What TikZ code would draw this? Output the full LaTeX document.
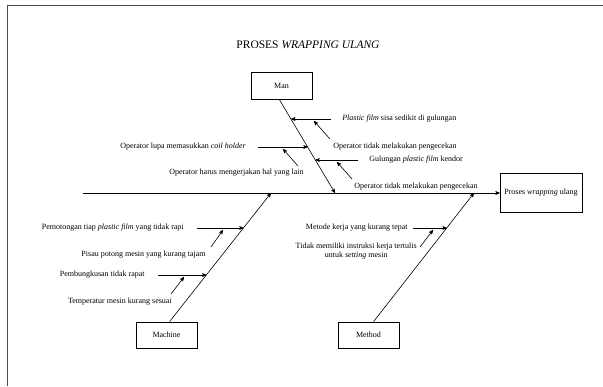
\documentclass[tikz,border=0pt]{standalone}
\usepackage{fontspec}
\setmainfont{Liberation Serif}
\usetikzlibrary{arrows,positioning}

\begin{document}
\begin{tikzpicture}[x=1pt,y=-1pt,->,>=stealth',line width=0.6pt,font=\fontsize{8}{9.5}\selectfont]
  \tikzstyle{box}=[draw=black,fill=white,minimum width=61pt,minimum height=27pt,inner sep=1pt]
  \tikzstyle{cause}=[inner sep=0pt]

  \useasboundingbox (0,0) rectangle (603,386);
  \draw[-,line width=1.3pt,gray!60!black] (7.5,386) -- (7.5,5.5) -- (603,5.5);

  \node (title) at (308,45) {\fontsize{11.5}{13}\selectfont PROSES \textit{WRAPPING ULANG}};

  % categories and effect
  \node[box] (man) at (281.5,86) {Man};
  \node[box,minimum height=26pt] (machine) at (166.5,335) {Machine};
  \node[box,minimum height=26pt] (method) at (368.5,335) {Method};
  \node[box,minimum width=82pt,minimum height=39pt] (effect) at (541,193) {Proses \textit{wrapping} ulang};

  % spine
  \coordinate (tail) at (83,193);
  \coordinate (jman) at (335,193);
  \coordinate (jmachine) at (271,193);
  \coordinate (jmethod) at (474,193);
  \draw (tail) -- (effect.west);

  % bones
  \draw ([xshift=-2pt]man.south) -- coordinate[pos=0.209] (m1) coordinate[pos=0.508] (m2)
    coordinate[pos=0.647] (m3) (jman);
  \draw ([xshift=3pt]machine.north) -- coordinate[pos=0.729] (b1) coordinate[pos=0.364] (b2) (jmachine);
  \draw ([xshift=5pt]method.north) -- coordinate[pos=0.729] (t1) (jmethod);

  % man
  \node[cause,anchor=west] (c1) at (342,119) {\textit{Plastic film} sisa sedikit di gulungan};
  \node[cause,anchor=west] (c2) at (333,147) {Operator tidak melakukan pengecekan};
  \node[cause,anchor=east] (c3) at (246,147) {Operator lupa memasukkan \textit{coil holder}};
  \node[cause,anchor=east] (c4) at (304,173) {Operator harus mengerjakan hal yang lain};
  \node[cause,anchor=west] (c5) at (369,160) {Gulungan \textit{plastic film} kendor};
  \node[cause,anchor=west] (c6) at (354,187) {Operator tidak melakukan pengecekan};
  \coordinate (k2) at (314,121);
  \coordinate (k4) at (283,149);
  \coordinate (k6) at (337,162);
  \draw[shorten <=11pt] (c1) -- (c1 -| m1);
  \draw ([shift={(-3,-8)}]c2.west) -- (k2);
  \draw[shorten <=12pt] (c3) -- (c3 -| m2);
  \draw ([shift={(-6,-7)}]c4.east) -- (k4);
  \draw[shorten <=11pt] (c5) -- (c5 -| m3);
  \draw ([shift={(-2,-8)}]c6.west) -- (k6);

  % machine
  \node[cause,anchor=east] (c7) at (184,228) {Pemotongan tiap \textit{plastic film} yang tidak rapi};
  \node[cause,anchor=east] (c8) at (206,255) {Pisau potong mesin yang kurang tajam};
  \node[cause,anchor=east] (c9) at (145,275) {Pembungkusan tidak rapat};
  \node[cause,anchor=east] (c10) at (172,302) {Temperatur mesin kurang sesuai};
  \coordinate (k8) at (223,230);
  \coordinate (k10) at (184,277);
  \draw[shorten <=13pt] (c7) -- (c7 -| b1);
  \draw ([shift={(5,-8)}]c8.east) -- (k8);
  \draw[shorten <=13pt] (c9) -- (c9 -| b2);
  \draw ([shift={(-1,-8)}]c10.east) -- (k10);

  % method
  \node[cause,anchor=east] (c11) at (408,228) {Metode kerja yang kurang tepat};
  \node[cause,anchor=east,align=center] (c12) at (417,251) {Tidak memiliki instruksi kerja tertulis\\untuk \textit{setting} mesin};
  \coordinate (k12) at (433,230);
  \draw[shorten <=5pt] (c11) -- (c11 -| t1);
  \draw ([shift={(3,-4)}]c12.east) -- (k12);
\end{tikzpicture}
\end{document}
